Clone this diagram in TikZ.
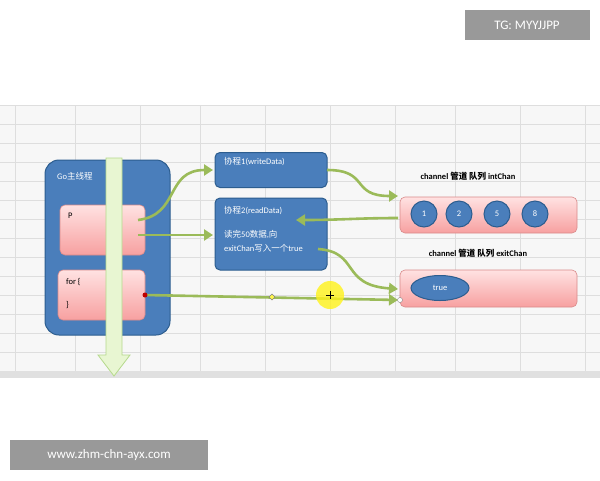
\documentclass[tikz,border=0pt]{standalone}
\usepackage{fontspec}
\setmainfont{Carlito}
\newfontfamily\cjk{Noto Sans CJK SC}
\usetikzlibrary{shapes.geometric,arrows.meta}
\definecolor{gblue}{HTML}{4A7EBB}
\definecolor{gblued}{HTML}{2C5D8F}
\definecolor{pinkt}{HTML}{FFE2E2}
\definecolor{pinkb}{HTML}{F7A0A0}
\definecolor{pinkd}{HTML}{D98A8A}
\definecolor{arr}{HTML}{9BBB59}
\definecolor{lg}{HTML}{E8F6D2}
\definecolor{lgd}{HTML}{B5D98C}
\begin{document}
\begin{tikzpicture}[x=1pt,y=-1pt,
 bbox/.style={draw=gblued,line width=1pt,fill=gblue,rounded corners=5pt},
 pbox/.style={draw=pinkd,line width=0.6pt,top color=pinkt,bottom color=pinkb,rounded corners=5pt},
 wt/.style={text=white,font=\fontsize{8.5}{10}\selectfont,anchor=west,inner sep=0},
 bt/.style={text=black,font=\fontsize{8.5}{10}\selectfont,anchor=west,inner sep=0},
 lab/.style={text=black,font=\bfseries\fontsize{8.5}{10}\selectfont,inner sep=0},
 circ/.style={circle,draw=gblued,line width=1pt,fill=gblue,minimum size=26pt,inner sep=0,text=white,font=\fontsize{8.5}{10}\selectfont},
 ga/.style={draw=arr,line width=2.6pt,-{Triangle[length=9pt,width=11pt]}},
 gray box/.style={fill=black!40,text=white,inner sep=0,font=\fontsize{13}{15}\selectfont}]
\useasboundingbox (0,0) rectangle (600,480);
\fill[white] (0,0) rectangle (600,480);
% spreadsheet grid
\fill[black!3] (0,105) rectangle (600,375);
\foreach \y in {105,124,143,162,181,200,219,238,257,276,295,314,333,352,371}
  \draw[black!13,line width=0.5pt] (0,\y) -- (600,\y);
\foreach \x in {15,75,140,200,265,330,395,455,520,585}
  \draw[black!13,line width=0.5pt] (\x,105) -- (\x,375);
\fill[black!12] (0,371) rectangle (600,378);
% watermark boxes
\node[gray box,minimum width=125pt,minimum height=30pt] (tg) at (527,25) {TG: MYYJJPP};
\node[gray box,minimum width=198pt,minimum height=30pt] (www) at (109,455) {www.zhm-chn-ayx.com};
% main goroutine
\draw[bbox,rounded corners=14pt] (45,160) rectangle (170,335);
\node[wt] (gomain) at (57,176) {Go{\cjk 主线程}};
\node[pbox,minimum width=85pt,minimum height=50pt] (P) at (102.5,230) {};
\node[pbox,minimum width=87pt,minimum height=50pt] (F) at (101.5,295) {};
% vertical green arrow
\draw[fill=lg,draw=lgd,line width=0.8pt] (106,158) -- (122,158) -- (122,355) -- (130,355) -- (114,376) -- (98,355) -- (106,355) -- cycle;
\node[bt] (ptext) at (68,216) {P};
\node[bt] (for1) at (66,282) {for \{};
\node[bt] (for2) at (66,305) {\}};
% goroutines
\node[bbox,minimum width=112pt,minimum height=35pt] (w) at (271,170) {};
\node[wt] at (224,162) {{\cjk 协程}1(writeData)};
\node[bbox,minimum width=112pt,minimum height=72pt] (r) at (271,234) {};
\node[wt] at (224,211) {{\cjk 协程}2(readData)};
\node[wt] at (224,234) {{\cjk 读完}50{\cjk 数据},{\cjk 向}};
\node[wt] at (224,248) {exitChan{\cjk 写入一个}true};
% channels
\node[lab] (l1) at (468,176) {channel {\cjk 管道 队列} intChan};
\node[pbox,minimum width=177pt,minimum height=36pt] (ic) at (488.5,215) {};
\node[circ] (c1) at (424,214) {1};
\node[circ] (c2) at (459,214) {2};
\node[circ] (c3) at (497,214) {5};
\node[circ] (c4) at (535,214) {8};
\node[lab] (l2) at (478,253) {channel {\cjk 管道 队列} exitChan};
\node[pbox,minimum width=177pt,minimum height=37pt] (ec) at (488.5,288.5) {};
\node[ellipse,draw=gblued,line width=1pt,fill=gblue,minimum width=58pt,minimum height=25pt,text=white,font=\fontsize{8.5}{10}\selectfont] (t) at (440,288) {true};
% arrows
\draw[ga] (138,220) .. controls (180,215) and (165,170) .. (213,170);
\draw[ga] (327,170) .. controls (370,170) and (350,196) .. (398,196);
\draw[ga] (138,235) -- (213,235);
\draw[ga] (398,218) .. controls (360,218) and (340,220) .. (296,220);
\draw[ga] (318,249) .. controls (360,252) and (340,285) .. (398,289);
\draw[ga] (145,295) -- (398,300);
\fill[red!75!black] (145,295) circle (2.5pt);
\draw[fill=yellow!70,draw=black!50,line width=0.4pt] (272,294) -- (275,297) -- (272,300) -- (269,297) -- cycle;
\draw[fill=white,draw=black!50,line width=0.4pt] (400,300) circle (2.5pt);
% cursor highlight
\fill[yellow!90,opacity=0.8] (330,295) circle (14pt);
\draw[black,line width=0.6pt] (326,295) -- (334,295) (330,291) -- (330,299);
\end{tikzpicture}
\end{document}
